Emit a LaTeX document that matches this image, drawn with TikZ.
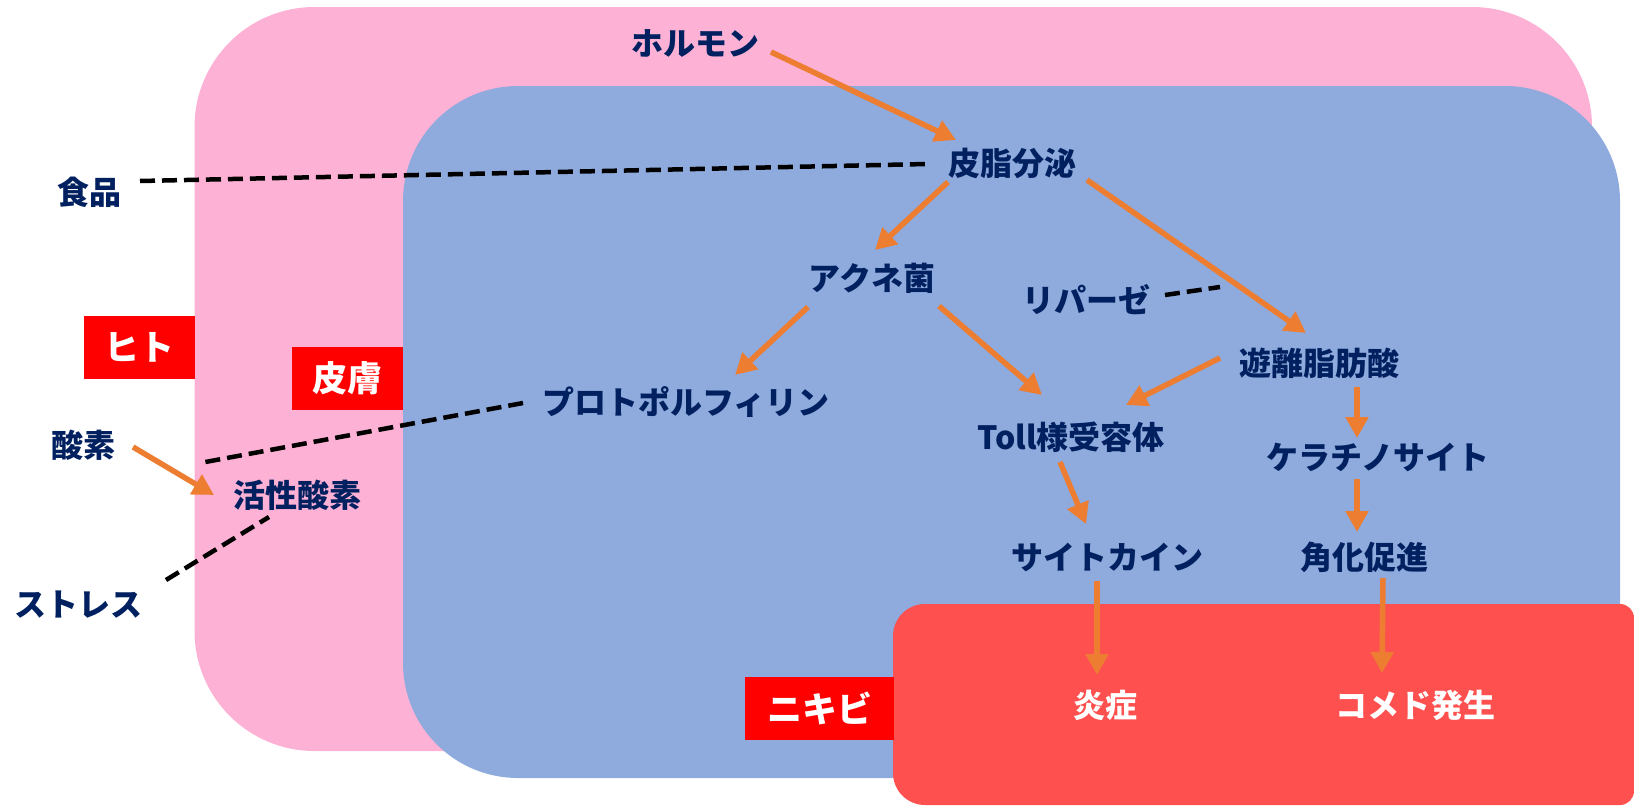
\documentclass[tikz,border=0pt]{standalone}
\usepackage{fontspec}
\newfontfamily\jp{Noto Sans CJK JP}
\usetikzlibrary{arrows.meta}
\definecolor{pinkbg}{RGB}{253,177,213}
\definecolor{bluebg}{RGB}{143,170,220}
\definecolor{redbig}{RGB}{255,80,80}
\definecolor{redlab}{RGB}{255,0,0}
\definecolor{navy}{RGB}{0,32,96}
\definecolor{orangearr}{RGB}{237,125,49}
\begin{document}
\begin{tikzpicture}[x=1pt,y=-1pt,
  txt/.style={font={\jp\bfseries\fontsize{32}{32}\selectfont}, text=navy, inner sep=0pt},
  wtxt/.style={txt, text=white},
  lab/.style={fill=redlab, text=white, font={\jp\bfseries\fontsize{35}{35}\selectfont}, inner sep=0pt, minimum height=63pt},
  arr/.style={draw=orangearr, line width=5.5pt, -{Triangle[length=21pt,width=22pt]}},
  dsh/.style={draw=black, line width=4.5pt, dash pattern=on 15pt off 7pt},
]
\useasboundingbox (0,0) rectangle (1634,806);
% regions
\fill[pinkbg, rounded corners=120pt] (194.5,7) rectangle (1592,751);
\fill[bluebg, rounded corners=115pt] (403,86) rectangle (1620,778);
\fill[redbig] (893,700) [rounded corners=32pt] -- (893,604) -- (1300,604) [rounded corners=14pt] -- (1634,604) -- (1634,805) -- (1300,805) [rounded corners=32pt] -- (893,805) -- cycle;
% labels
\node[lab, minimum width=111pt] (hito) at (139,347.5) {ヒト};
\node[lab, minimum width=111pt] (hifu) at (347.5,378.5) {皮膚};
\node[lab, minimum width=149pt] (nikibi) at (819.5,708.5) {ニキビ};
% text nodes
\node[txt] (hormone) at (695,43) {ホルモン};
\node[txt] (sebum) at (1012,163) {皮脂分泌};
\node[txt] (food) at (89,192) {食品};
\node[txt] (acne) at (872,278) {アクネ菌};
\node[txt] (lipase) at (1086,300) {リパーゼ};
\node[txt] (ffa) at (1319,363) {遊離脂肪酸};
\node[txt] (proto) at (686,402) {プロトポルフィリン};
\node[txt] (toll) at (1071,437) {Toll様受容体};
\node[txt] (kera) at (1378,457) {ケラチノサイト};
\node[txt] (cyto) at (1107,557) {サイトカイン};
\node[txt] (kaku) at (1364,557) {角化促進};
\node[wtxt] (enshou) at (1105,705) {炎症};
\node[wtxt] (comedo) at (1415,705) {コメド発生};
\node[txt] (oxy) at (83,445) {酸素};
\node[txt] (ros) at (297,495) {活性酸素};
\node[txt] (stress) at (79,605) {ストレス};
\coordinate (lipend) at (1220,287);
% dashed connectors
\draw[dsh] ([shift={(51,-11)}]food.center) -- ([shift={(-85,1)}]sebum.center);
\draw[dsh] ([shift={(79,-5)}]lipase.center) -- (lipend);
\draw[dsh] ([shift={(-163,1)}]proto.center) -- ([shift={(-97,-32)}]ros.center);
\draw[dsh] ([shift={(87,-25)}]stress.center) -- ([shift={(-28,22)}]ros.center);
% arrows
\draw[arr] ([shift={(76,9)}]hormone.center) -- ([shift={(-56,-23)}]sebum.center);
\draw[arr] ([shift={(-64,19)}]sebum.center) -- ([shift={(3,-28)}]acne.center);
\draw[arr] ([shift={(75,17)}]sebum.center) -- ([shift={(-13,-30)}]ffa.center);
\draw[arr] ([shift={(-64,29)}]acne.center) -- ([shift={(49,-27)}]proto.center);
\draw[arr] ([shift={(67,28)}]acne.center) -- ([shift={(-29,-42)}]toll.center);
\draw[arr] ([shift={(-99,-5)}]ffa.center) -- ([shift={(55,-32)}]toll.center);
\draw[arr] ([shift={(38,24)}]ffa.center) -- ([shift={(-21,-19)}]kera.center);
\draw[arr] ([shift={(-11,25)}]toll.center) -- ([shift={(-21,-33)}]cyto.center);
\draw[arr] ([shift={(-21,22)}]kera.center) -- ([shift={(-7,-25)}]kaku.center);
\draw[arr] ([shift={(-10,24)}]cyto.center) -- ([shift={(-8,-30)}]enshou.center);
\draw[arr] ([shift={(19,21)}]kaku.center) -- ([shift={(-33,-32)}]comedo.center);
\draw[arr] ([shift={(50,2)}]oxy.center) -- ([shift={(-83,0)}]ros.center);
\end{tikzpicture}
\end{document}
